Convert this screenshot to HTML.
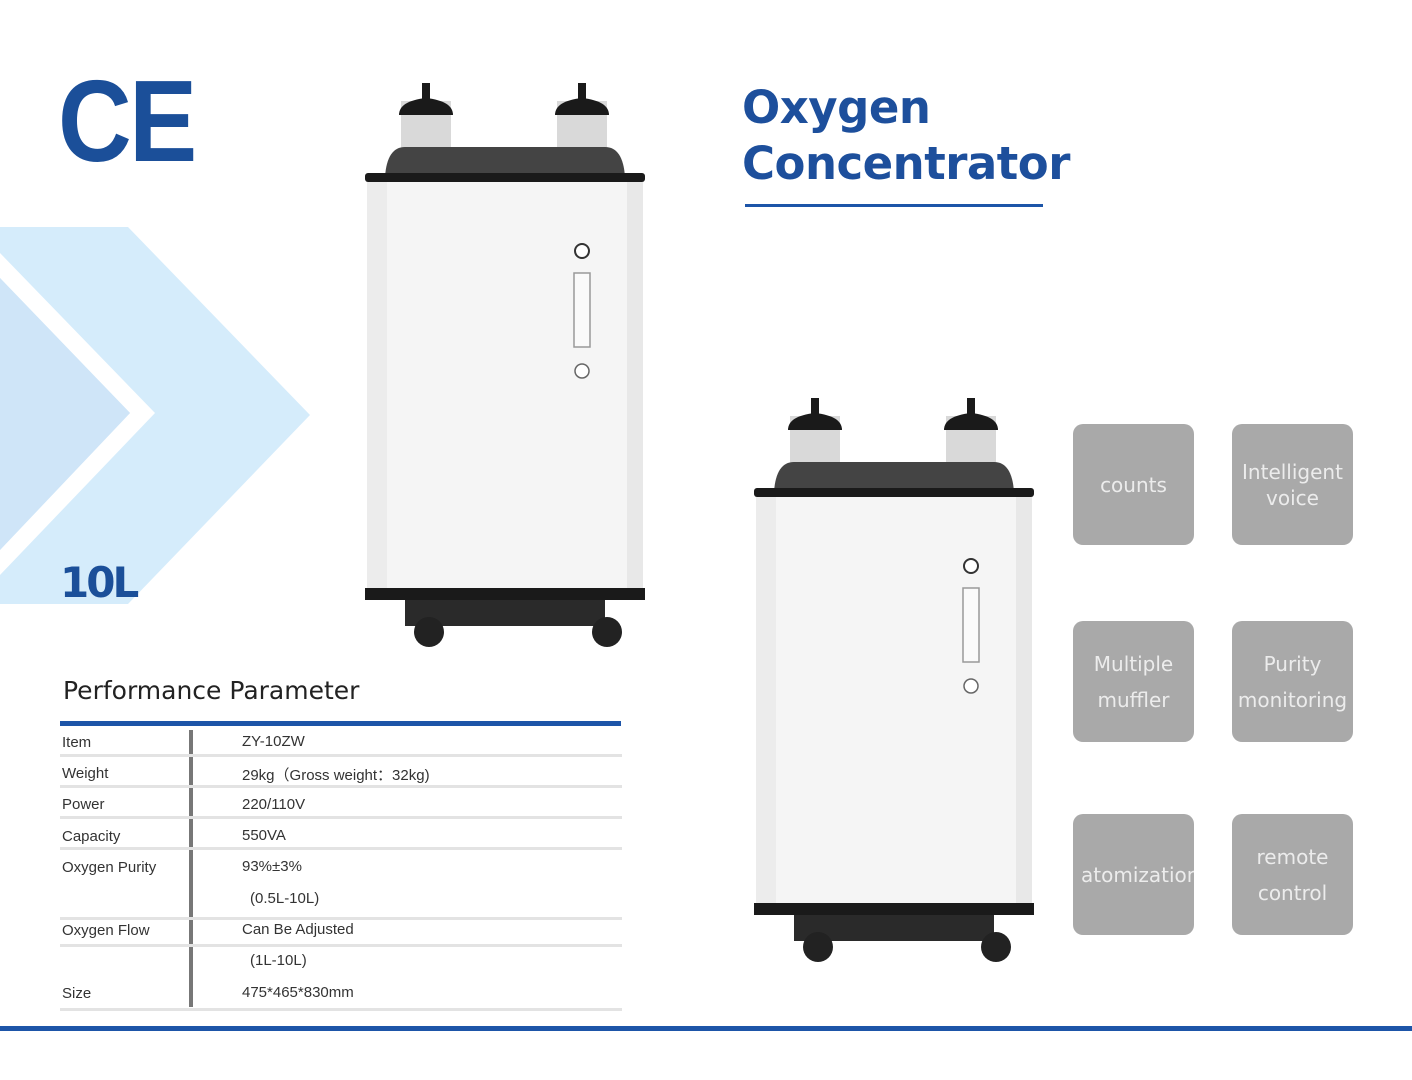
<!DOCTYPE html>
<html><head><meta charset="utf-8"><style>
body{margin:0;width:1412px;height:1080px;background:#fff;position:relative;overflow:hidden;font-family:"Liberation Sans","Noto Sans CJK SC",sans-serif}
.a{position:absolute}
.box{position:absolute;width:121px;height:121px;background:#a9a9a9;border-radius:10px;color:#ececec;font-size:20px;font-family:"DejaVu Sans",sans-serif;display:flex;align-items:center;justify-content:center;text-align:center;line-height:36px;overflow:hidden;white-space:nowrap}
.r{position:absolute;left:62px;font-size:15px;color:#333}
.v{position:absolute;left:242px;font-size:15px;color:#333}
.hl{position:absolute;left:60px;width:562px;height:3px;background:#e3e3e3}
</style></head><body>
<svg class="a" style="left:0;top:0" width="1412" height="1080">
<defs>
<g id="m">
<rect x="36" y="18" width="50" height="50" fill="#d9d9d9"/>
<rect x="192" y="18" width="50" height="50" fill="#d9d9d9"/>
<path d="M34 32 Q34 18 61 15 Q88 18 88 32 Z" fill="#1a1a1a"/>
<path d="M190 32 Q190 18 217 15 Q244 18 244 32 Z" fill="#1a1a1a"/>
<rect x="57" y="0" width="8" height="18" fill="#1a1a1a"/>
<rect x="213" y="0" width="8" height="18" fill="#1a1a1a"/>
<path d="M20 94 Q22 64 40 64 L240 64 Q258 64 260 94 Z" fill="#444"/>
<rect x="0" y="90" width="280" height="9" rx="3" fill="#1a1a1a"/>
<rect x="2" y="99" width="276" height="408" fill="#f5f5f5"/>
<rect x="2" y="99" width="20" height="408" fill="#ececec"/>
<rect x="262" y="99" width="16" height="408" fill="#e8e8e8"/>
<circle cx="217" cy="168" r="7" fill="#fff" stroke="#333" stroke-width="2"/>
<rect x="209" y="190" width="16" height="74" fill="#fafafa" stroke="#999" stroke-width="1.5"/>
<circle cx="217" cy="288" r="7" fill="#fff" stroke="#666" stroke-width="1.5"/>
<rect x="0" y="505" width="280" height="12" fill="#1a1a1a"/>
<rect x="40" y="517" width="200" height="26" fill="#2a2a2a"/>
<circle cx="64" cy="549" r="15" fill="#222"/><circle cx="242" cy="549" r="15" fill="#222"/>
</g>
</defs>
<polygon points="0,227 128,227 310,415 128,604 0,604" fill="#d5ecfb"/>
<polygon points="0,253 155,413 0,575 0,550 130,413 0,278" fill="#fff"/>
<polygon points="0,278 130,413 0,550" fill="#cfe5f8"/>
<use href="#m" x="365" y="83"/>
<use href="#m" x="754" y="398"/>
<rect x="0" y="1026" width="1412" height="5" fill="#1d55a8"/>
<rect x="745" y="204" width="298" height="3" fill="#1d55a8"/>
<rect x="60" y="721" width="561" height="5" fill="#1d55a8"/>
<rect x="189" y="730" width="4" height="277" fill="#777"/>
</svg>
<div class="a" style="left:58px;top:56px;font-size:116px;font-weight:bold;color:#1b4f99;letter-spacing:-3px;transform:scaleX(0.88);transform-origin:left top;line-height:130px">CE</div>
<div class="a" style="left:60px;top:558px;font-size:42px;font-weight:bold;color:#1b4f99;font-family:'DejaVu Sans',sans-serif;letter-spacing:-3px">10L</div>
<div class="a" style="left:742px;top:80px;font-size:45px;font-weight:bold;color:#1d4f9c;line-height:56px;font-family:'DejaVu Sans',sans-serif;letter-spacing:-0.5px">Oxygen<br>Concentrator</div>
<div class="a" style="left:63px;top:676px;font-size:25px;color:#222;font-family:'DejaVu Sans',sans-serif">Performance Parameter</div>
<div class="hl" style="top:754px"></div><div class="hl" style="top:785px"></div><div class="hl" style="top:816px"></div><div class="hl" style="top:847px"></div><div class="hl" style="top:917px"></div><div class="hl" style="top:944px"></div><div class="hl" style="top:1008px"></div>
<div class="r" style="top:734px">Item</div><div class="v" style="top:733px">ZY-10ZW</div>
<div class="r" style="top:765px">Weight</div><div class="v" style="top:764px">29kg（Gross weight：32kg)</div>
<div class="r" style="top:796px">Power</div><div class="v" style="top:796px">220/110V</div>
<div class="r" style="top:828px">Capacity</div><div class="v" style="top:827px">550VA</div>
<div class="r" style="top:859px">Oxygen Purity</div><div class="v" style="top:858px">93%±3%</div>
<div class="v" style="top:890px;left:250px">(0.5L-10L)</div>
<div class="r" style="top:922px">Oxygen Flow</div><div class="v" style="top:921px">Can Be Adjusted</div>
<div class="v" style="top:952px;left:250px">(1L-10L)</div>
<div class="r" style="top:985px">Size</div><div class="v" style="top:984px">475*465*830mm</div>
<div class="box" style="left:1073px;top:424px">counts</div>
<div class="box" style="left:1232px;top:424px;line-height:26px">Intelligent<br>voice</div>
<div class="box" style="left:1073px;top:621px">Multiple<br>muffler</div>
<div class="box" style="left:1232px;top:621px">Purity<br>monitoring</div>
<div class="box" style="left:1073px;top:814px;justify-content:flex-start;padding-left:8px;width:113px">atomization</div>
<div class="box" style="left:1232px;top:814px">remote<br>control</div>
</body></html>
